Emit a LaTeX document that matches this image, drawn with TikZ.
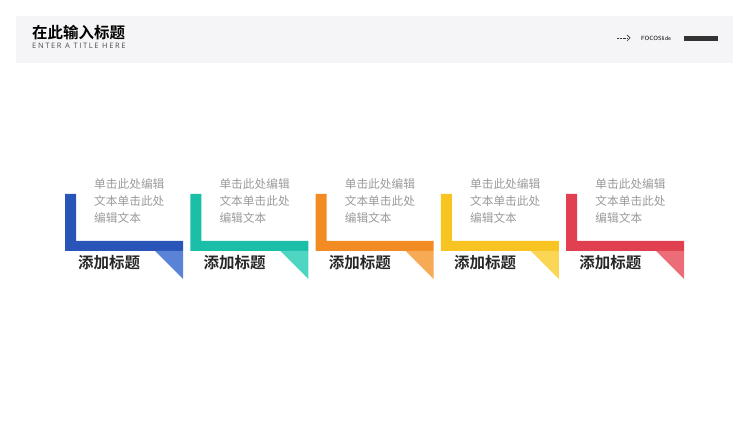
\documentclass[tikz,border=0pt]{standalone}
\usepackage{fontspec}
\newfontfamily\cjk{Noto Sans CJK SC}
\newfontfamily\cjkb{Noto Sans CJK SC Bold}
\newfontfamily\subfont[LetterSpace=22]{Open Sans}
\usetikzlibrary{calc}
\definecolor{hdrgray}{HTML}{F5F5F7}
\definecolor{txtgray}{HTML}{9A9A9A}
\definecolor{cA}{HTML}{2A55B8}\definecolor{lA}{HTML}{5A82D6}
\definecolor{cB}{HTML}{1BBFA8}\definecolor{lB}{HTML}{4FD6C2}
\definecolor{cC}{HTML}{F28C22}\definecolor{lC}{HTML}{F7AA55}
\definecolor{cD}{HTML}{F8C422}\definecolor{lD}{HTML}{FBD655}
\definecolor{cE}{HTML}{E0404F}\definecolor{lE}{HTML}{EC6D78}
\tikzset{
  body/.style={font=\cjk\fontsize{11.7}{17}\selectfont,text=txtgray,anchor=north west,align=left,inner sep=0pt},
  head/.style={font=\cjkb\fontsize{15.5}{16}\selectfont,text=black!85,anchor=west,inner sep=0pt}
}
\begin{document}
\begin{tikzpicture}[x=1pt,y=-1pt]
\useasboundingbox (0,0) rectangle (750,422);
% header
\fill[hdrgray] (16,16) rectangle (733,63);
\node[anchor=west,inner sep=0pt,font=\cjkb\fontsize{15.5}{15.5}\selectfont] (title) at (32,33) {在此输入标题};
\node[anchor=west,inner sep=0pt,font=\subfont\fontsize{7.5}{7.5}\selectfont,text=black!70] (sub) at (32,46) {ENTER A TITLE HERE};
\draw[densely dotted,black!80] (617,38) -- (627,38);
\draw[black!80,line width=0.7pt] (627,35) -- (630,38) -- (627,41);
\node[anchor=west,inner sep=0pt,font=\sffamily\fontsize{6}{6}\selectfont] (brand) at (641,38) {FOCOSlide};
\fill[black!80] (684,36) rectangle (718,41);
% steps
\foreach \i/\c in {0/A,1/B,2/C,3/D,4/E}{
  \begin{scope}[xshift=125.3*\i]
    \fill[c\c] (65,194) -- (76,194) -- (76,241) -- (183,241) -- (183,251) -- (65,251) -- cycle;
    \fill[l\c] (155,251) -- (183,251) -- (183,279) -- cycle;
    \node[body] (txt\c) at (94,178) {单击此处编辑\\文本单击此处\\编辑文本};
    \node[head] (hd\c) at (78,263) {添加标题};
  \end{scope}
}
\end{tikzpicture}
\end{document}
